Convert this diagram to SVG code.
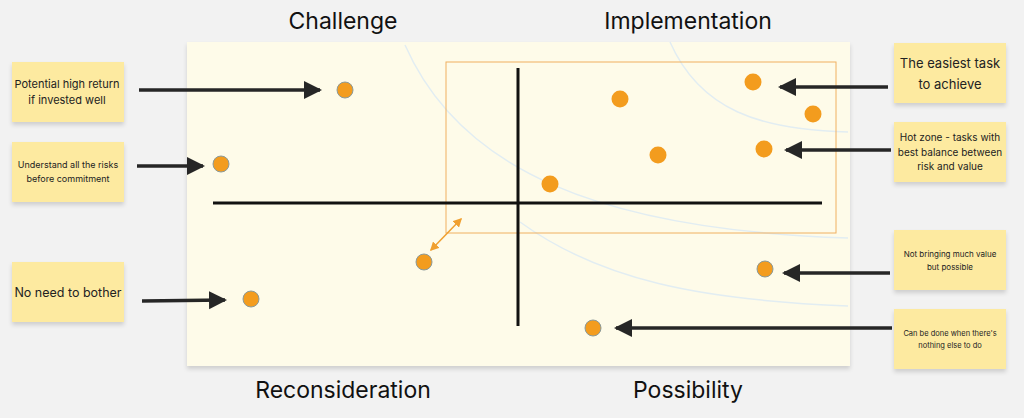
<svg xmlns="http://www.w3.org/2000/svg" width="1024" height="418" viewBox="0 0 1024 418">
<defs>
<marker id="ah" markerWidth="18" markerHeight="20" refX="16" refY="10" orient="auto" markerUnits="userSpaceOnUse"><path d="M0,1 L18,10 L0,19 z" fill="#262626"/></marker>
<marker id="oa" markerWidth="6" markerHeight="6" refX="5" refY="3" orient="auto-start-reverse" markerUnits="strokeWidth"><path d="M0,0 L6,3 L0,6 z" fill="#f0a030"/></marker>
<filter id="sh" x="-10%" y="-10%" width="120%" height="130%"><feDropShadow dx="0" dy="3" stdDeviation="2" flood-color="#000" flood-opacity="0.15"/></filter>
</defs>
<style>
.note{fill:#fdeaa0;filter:url(#sh)}
.t{font-family:"Inter","Liberation Sans",sans-serif;fill:#222;text-anchor:middle}
.h{font-family:"Inter","Liberation Sans",sans-serif;fill:#111;font-size:23px;text-anchor:middle}
.dot{fill:#f39c1e;stroke:#8a9a9a;stroke-width:1}
.dot2{fill:#f39c1e}
.arr{stroke:#262626;stroke-width:3.5;fill:none;marker-end:url(#ah)}
.curve{stroke:#e2edf2;stroke-width:1.5;fill:none}
</style>
<rect width="1024" height="418" fill="#f2f2f2"/>
<rect x="187" y="42" width="663" height="324" fill="#fefbe9" filter="url(#sh)"/>
<g id="curves">
<path class="curve" d="M405,45 C460,170 600,230 848,238"/>
<path class="curve" d="M670,42 C700,110 760,130 848,132"/>
<path class="curve" d="M520,222 C600,280 700,300 848,306"/>
</g>
<rect x="446" y="62" width="390" height="171" fill="none" stroke="#f0b060" stroke-width="1"/>
<g id="axes" stroke="#111" stroke-width="3">
<line x1="213" y1="203" x2="822" y2="203"/>
<line x1="518" y1="68" x2="518" y2="326"/>
</g>
<g id="headings">
<text class="h" x="343" y="29">Challenge</text>
<text class="h" x="688" y="29">Implementation</text>
<text class="h" x="343" y="398">Reconsideration</text>
<text class="h" x="688" y="398">Possibility</text>
</g>
<g id="dots">
<circle class="dot" cx="345" cy="90" r="8"/>
<circle class="dot" cx="221" cy="164" r="8"/>
<circle class="dot" cx="424" cy="262" r="8"/>
<circle class="dot" cx="251" cy="299" r="8"/>
<circle class="dot2" cx="620" cy="99" r="8.5"/>
<circle class="dot2" cx="753" cy="82" r="8.5"/>
<circle class="dot2" cx="813" cy="114" r="8.5"/>
<circle class="dot2" cx="658" cy="155" r="8.5"/>
<circle class="dot2" cx="764" cy="149" r="8.5"/>
<circle class="dot2" cx="550" cy="184" r="8.5"/>
<circle class="dot" cx="765" cy="269" r="8"/>
<circle class="dot" cx="593" cy="328" r="8"/>
</g>
<g id="connectors">
<path class="arr" d="M139,90 L320,90"/>
<path class="arr" d="M137,166 L203,166"/>
<path class="arr" d="M142,301 L225,300"/>
<path class="arr" d="M888,87 L780,87"/>
<path class="arr" d="M891,150 L786,150"/>
<path class="arr" d="M890,273 L784,273"/>
<path class="arr" d="M892,328 L616,328"/>
<path d="M431,250 L461,219" stroke="#f0a030" stroke-width="1.5" fill="none" marker-end="url(#oa)" marker-start="url(#oa)"/>
</g>
<g id="n1"><rect class="note" x="12" y="62" width="112" height="60"/><text class="t" font-size="11"><tspan x="67" y="88">Potential high return</tspan><tspan x="67" y="104">if invested well</tspan></text></g>
<g id="n2"><rect class="note" x="12" y="142" width="112" height="60"/><text class="t" font-size="9"><tspan x="68" y="168">Understand all the risks</tspan><tspan x="68" y="182">before commitment</tspan></text></g>
<g id="n3"><rect class="note" x="12" y="262" width="112" height="60"/><text class="t" font-size="12.5" x="68" y="297">No need to bother</text></g>
<g id="n4"><rect class="note" x="894" y="43" width="112" height="60"/><text class="t" font-size="13"><tspan x="950" y="68">The easiest task</tspan><tspan x="950" y="89">to achieve</tspan></text></g>
<g id="n5"><rect class="note" x="894" y="122" width="112" height="60"/><text class="t" font-size="10"><tspan x="950" y="141">Hot zone - tasks with</tspan><tspan x="950" y="156">best balance between</tspan><tspan x="950" y="170">risk and value</tspan></text></g>
<g id="n6"><rect class="note" x="894" y="230" width="112" height="60"/><text class="t" font-size="8"><tspan x="950" y="257">Not bringing much value</tspan><tspan x="950" y="270">but possible</tspan></text></g>
<g id="n7"><rect class="note" x="894" y="309" width="112" height="60"/><text class="t" font-size="7.5"><tspan x="950" y="336">Can be done when there's</tspan><tspan x="950" y="348">nothing else to do</tspan></text></g>
</svg>
